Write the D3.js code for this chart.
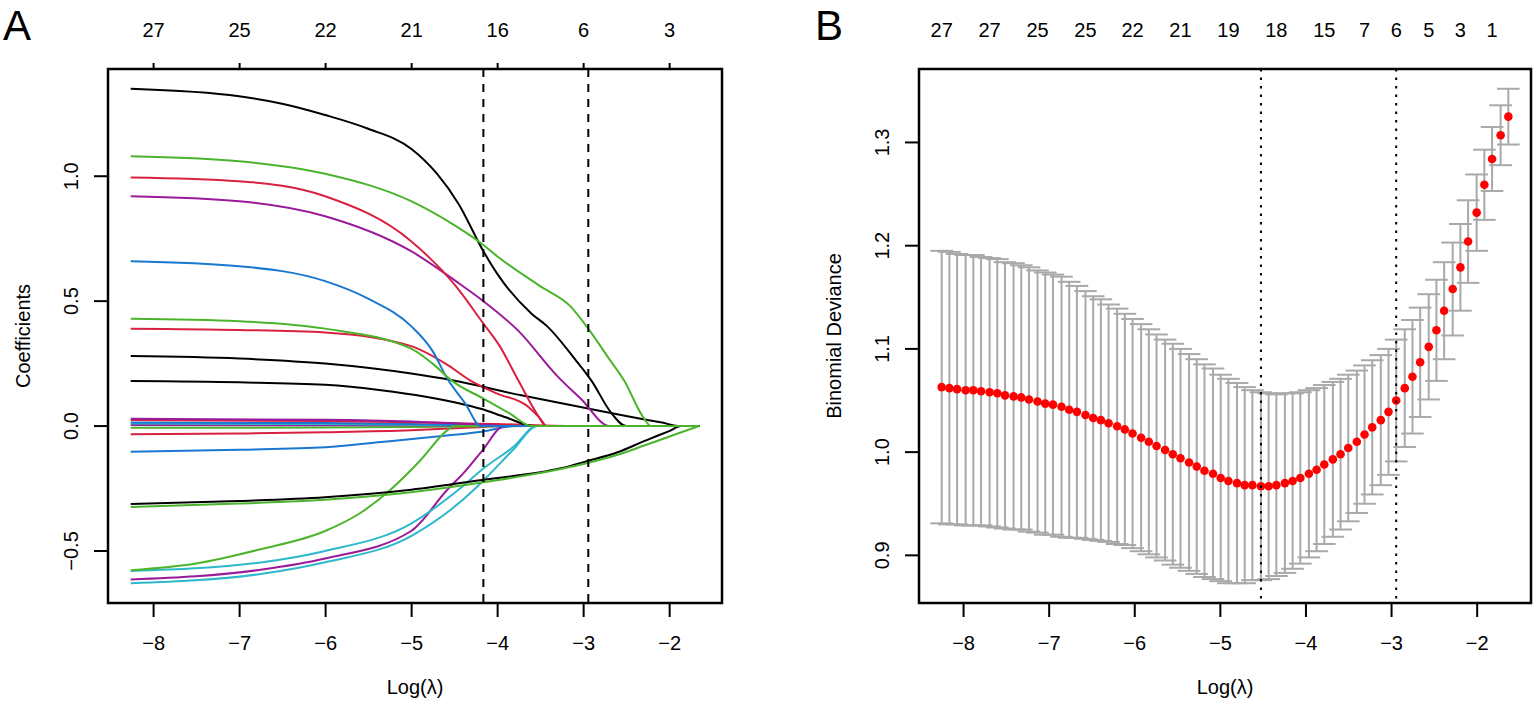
<!DOCTYPE html>
<html>
<head>
<meta charset="utf-8">
<script src="https://cdn.jsdelivr.net/npm/d3@7"></script>
<style>
  body { margin: 0; background: #fff; }
  text { font-family: "Liberation Sans", Arial, sans-serif; }
</style>
</head>
<body>
<div id="chart"></div>
<script>
// ---- panel A: coefficient paths, [log(lambda), coefficient] knots
const coefBlack1 = [[-8.26,1.35],[-7,1.32],[-6.5,1.29],[-6,1.245],[-5.5,1.19],[-5,1.11],[-4.7,1.01],[-4.45,0.89],[-4.16,0.70],[-4.0,0.61],[-3.6,0.45],[-3.42,0.40],[-3.1,0.27],[-2.9,0.18],[-2.68,0.056],[-2.5,0],[-1.65,0]];
const coefGreen1 = [[-8.26,1.08],[-7,1.06],[-6,1.01],[-5,0.90],[-4.48,0.80],[-4.16,0.725],[-4.0,0.68],[-3.5,0.56],[-3.15,0.48],[-2.92,0.38],[-2.7,0.27],[-2.52,0.18],[-2.31,0.04],[-2.21,0],[-1.65,0]];
const coefRed1 = [[-8.26,0.995],[-7,0.98],[-6,0.92],[-5,0.74],[-4.48,0.56],[-4.16,0.41],[-3.97,0.32],[-3.75,0.18],[-3.53,0.045],[-3.43,0],[-1.65,0]];
const coefPurple1 = [[-8.26,0.92],[-7,0.90],[-6,0.84],[-5,0.70],[-4.48,0.58],[-4.16,0.50],[-3.75,0.38],[-3.3,0.20],[-3.03,0.11],[-2.69,0],[-1.65,0]];
const coefBlue1 = [[-8.26,0.66],[-7,0.64],[-6,0.58],[-5.5,0.51],[-5.0,0.40],[-4.75,0.30],[-4.58,0.19],[-4.37,0.09],[-4.19,0],[-1.65,0]];
const coefGreen2 = [[-8.26,0.43],[-7,0.42],[-6,0.39],[-5,0.31],[-4.75,0.25],[-4.52,0.18],[-4.16,0.11],[-3.85,0.05],[-3.6,0],[-1.65,0]];
const coefRed2 = [[-8.26,0.39],[-7,0.385],[-6,0.375],[-5,0.32],[-4.6,0.25],[-4.3,0.18],[-4.0,0.13],[-3.65,0.08],[-3.5,0.03],[-3.42,0],[-1.65,0]];
const coefBlack2 = [[-8.26,0.28],[-7,0.27],[-6,0.25],[-5,0.21],[-4.52,0.183],[-3.72,0.123],[-3.03,0.076],[-2.5,0.04],[-2.1,0.015],[-1.86,0],[-1.65,0]];
const coefBlack3 = [[-8.26,0.18],[-7,0.175],[-6,0.165],[-5.35,0.143],[-4.42,0.089],[-4.19,0.069],[-3.9,0.035],[-3.57,0],[-1.65,0]];
const coefMagenta0 = [[-8.26,0.029],[-6,0.025],[-5,0.018],[-4.2,0.006],[-3.84,0],[-1.65,0]];
const coefRed0 = [[-8.26,0.024],[-6,0.02],[-5,0.015],[-4,0.008],[-3.0,0],[-1.65,0]];
const coefBlue0 = [[-8.26,0.014],[-6,0.012],[-5,0.008],[-4.3,0.003],[-3.9,0],[-1.65,0]];
const coefCyan0 = [[-8.26,0.010],[-6,0.008],[-5,0.005],[-3.8,0],[-1.65,0]];
const coefMagenta0b = [[-8.26,0.004],[-5,0.003],[-3.7,0],[-1.65,0]];
const coefGreen0 = [[-8.26,-0.007],[-6,-0.006],[-5,-0.004],[-3.6,0],[-1.65,0]];
const coefRed0b = [[-8.26,-0.033],[-7,-0.03],[-6,-0.025],[-5,-0.017],[-4.3,-0.006],[-3.9,0],[-1.65,0]];
const coefBlue2 = [[-8.26,-0.103],[-7,-0.095],[-6,-0.085],[-5.35,-0.064],[-4.5,-0.035],[-4.16,-0.022],[-3.8,0],[-1.65,0]];
const coefBlack4 = [[-8.26,-0.312],[-7,-0.30],[-6,-0.285],[-5,-0.255],[-4.16,-0.215],[-3.26,-0.169],[-2.95,-0.14],[-2.6,-0.105],[-2.29,-0.06],[-2.0,-0.02],[-1.86,0],[-1.65,0]];
const coefGreen3 = [[-8.26,-0.324],[-7,-0.31],[-6,-0.295],[-5,-0.265],[-4.16,-0.225],[-3.26,-0.172],[-2.95,-0.148],[-2.6,-0.115],[-2.29,-0.078],[-1.9,-0.03],[-1.65,0]];
const coefGreen4 = [[-8.26,-0.577],[-7.5,-0.55],[-6.75,-0.493],[-6,-0.42],[-5.6,-0.35],[-5.24,-0.255],[-4.9,-0.14],[-4.58,-0.017],[-4.5,0],[-1.65,0]];
const coefCyanA = [[-8.26,-0.58],[-6.75,-0.546],[-6,-0.50],[-5,-0.39],[-4.45,-0.255],[-4.16,-0.17],[-3.8,-0.08],[-3.54,0],[-1.65,0]];
const coefMagenta1 = [[-8.26,-0.614],[-6.75,-0.575],[-6,-0.53],[-5,-0.42],[-4.58,-0.255],[-4.37,-0.18],[-4.17,-0.097],[-3.92,0],[-1.65,0]];
const coefCyanB = [[-8.26,-0.629],[-6.75,-0.592],[-6,-0.545],[-5,-0.44],[-4.27,-0.255],[-4.16,-0.218],[-3.8,-0.09],[-3.54,0],[-1.65,0]];

// drawing order (last one ends up on top along the zero line)
const coefSeries = [coefRed0b, coefGreen0, coefMagenta0b, coefCyan0, coefBlue0, coefRed0, coefMagenta0,
    coefBlue2, coefCyanB, coefMagenta1, coefCyanA, coefGreen4, coefBlack4, coefBlack3, coefBlack2,
    coefRed2, coefBlue1, coefPurple1, coefRed1, coefBlack1, coefGreen2, coefGreen3, coefGreen1];
const coefColors = ["#d92040", "#4cb42c", "#9a1a9a", "#2db8cc", "#1a78d0", "#d92040", "#9a1a9a",
    "#1a78d0", "#2db8cc", "#9a1a9a", "#2db8cc", "#4cb42c", "#000000", "#000000", "#000000",
    "#d92040", "#1a78d0", "#9a1a9a", "#d92040", "#000000", "#4cb42c", "#4cb42c", "#4cb42c"];

const xTicks = [-8, -7, -6, -5, -4, -3, -2];
const topLabelsA = ["27", "25", "22", "21", "16", "6", "3"];
const yTicksA = [-0.5, 0, 0.5, 1.0];
const vlinesA = [-4.16, -2.94];

// ---- panel B: cross-validation curve
const logLambda = [-8.25, -8.16, -8.07, -7.97, -7.88, -7.79, -7.69, -7.60, -7.51, -7.41,
    -7.32, -7.23, -7.13, -7.04, -6.95, -6.85, -6.76, -6.67, -6.57, -6.48,
    -6.39, -6.30, -6.20, -6.11, -6.02, -5.92, -5.83, -5.74, -5.64, -5.55,
    -5.46, -5.36, -5.27, -5.18, -5.08, -4.99, -4.90, -4.80, -4.71, -4.62,
    -4.52, -4.43, -4.34, -4.24, -4.15, -4.06, -3.96, -3.87, -3.78, -3.68,
    -3.59, -3.50, -3.40, -3.31, -3.22, -3.12, -3.03, -2.94, -2.84, -2.75,
    -2.66, -2.56, -2.47, -2.38, -2.28, -2.19, -2.10, -2.00, -1.91, -1.82,
    -1.72, -1.63];
const cvMean = [1.063, 1.062, 1.061, 1.060, 1.060, 1.059, 1.058, 1.057, 1.055, 1.054,
    1.053, 1.051, 1.049, 1.047, 1.046, 1.044, 1.041, 1.039, 1.036, 1.033,
    1.031, 1.028, 1.025, 1.022, 1.018, 1.014, 1.010, 1.006, 1.002, 0.998,
    0.994, 0.990, 0.986, 0.982, 0.979, 0.975, 0.972, 0.970, 0.968, 0.968,
    0.967, 0.967, 0.968, 0.970, 0.972, 0.975, 0.979, 0.983, 0.988, 0.993,
    0.998, 1.004, 1.010, 1.017, 1.024, 1.031, 1.039, 1.050, 1.062, 1.073,
    1.087, 1.102, 1.118, 1.137, 1.158, 1.179, 1.204, 1.232, 1.259, 1.284,
    1.307, 1.325];
const cvSd = [0.132, 0.132, 0.131, 0.131, 0.131, 0.130, 0.130, 0.130, 0.129, 0.129,
    0.128, 0.128, 0.127, 0.127, 0.126, 0.126, 0.124, 0.122, 0.120, 0.118,
    0.117, 0.115, 0.114, 0.112, 0.111, 0.110, 0.109, 0.108, 0.107, 0.107,
    0.106, 0.105, 0.104, 0.103, 0.102, 0.100, 0.099, 0.097, 0.095, 0.092,
    0.091, 0.090, 0.088, 0.087, 0.085, 0.083, 0.081, 0.079, 0.077, 0.075,
    0.073, 0.071, 0.069, 0.067, 0.065, 0.063, 0.061, 0.059, 0.057, 0.055,
    0.053, 0.051, 0.049, 0.047, 0.045, 0.042, 0.040, 0.037, 0.034, 0.031,
    0.029, 0.027];
const nzeroIdx = [0, 6, 12, 18, 24, 30, 36, 42, 48, 53, 57, 61, 65, 69];
const nzeroLabels = ["27", "27", "25", "25", "22", "21", "19", "18", "15", "7", "6", "5", "3", "1"];
const yTicksB = [0.9, 1.0, 1.1, 1.2, 1.3];

// ---- layout
const width = 1535, height = 705;
const boxA = {left: 108, right: 722, top: 69, bottom: 603};
const boxB = {left: 919, right: 1531, top: 69, bottom: 603};
const fontSize = 20;

const svg = d3.select("#chart")
    .append("svg")
    .attr("width", width)
    .attr("height", height)
    .style("display", "block");

svg.append("rect").attr("width", width).attr("height", height).attr("fill", "#fff");

// R style axis range: data range stretched 4% on each side
function rRange(ext) {
    const d = (ext[1] - ext[0]) * 0.04;
    return [ext[0] - d, ext[1] + d];
}

function bottomAxis(box, x) {
    svg.append("g")
        .attr("transform", `translate(0, ${box.bottom})`)
        .call(d3.axisBottom(x).tickValues(xTicks).tickSize(14).tickPadding(19).tickFormat(d3.format(".0f")))
        .call(g => g.select(".domain").remove())
        .call(g => g.selectAll("line").attr("stroke", "#000").attr("stroke-width", 2))
        .call(g => g.selectAll("text").attr("fill", "#000"))
        .attr("font-size", fontSize)
        .attr("font-family", null);
}

function leftAxis(box, y, ticks, fmt) {
    const g = svg.append("g");
    g.selectAll("line")
        .data(ticks)
        .join("line")
        .attr("x1", box.left - 14).attr("x2", box.left)
        .attr("y1", d => y(d)).attr("y2", d => y(d))
        .attr("stroke", "#000").attr("stroke-width", 2);
    g.selectAll("text")
        .data(ticks)
        .join("text")
        .attr("transform", d => `translate(${box.left - 30}, ${y(d)}) rotate(-90)`)
        .attr("text-anchor", "middle")
        .attr("font-size", fontSize)
        .text(fmt);
}

function frame(box) {
    svg.append("rect")
        .attr("x", box.left).attr("y", box.top)
        .attr("width", box.right - box.left).attr("height", box.bottom - box.top)
        .attr("fill", "none").attr("stroke", "#000").attr("stroke-width", 2.5);
}

function titles(box, xTitle, yTitle, letter, letterX) {
    svg.append("text")
        .attr("x", (box.left + box.right) / 2).attr("y", 694)
        .attr("text-anchor", "middle").attr("font-size", fontSize)
        .text(xTitle);
    svg.append("text")
        .attr("transform", `translate(${box.left - 78}, ${(box.top + box.bottom) / 2}) rotate(-90)`)
        .attr("text-anchor", "middle").attr("font-size", fontSize)
        .text(yTitle);
    svg.append("text")
        .attr("x", letterX).attr("y", 40)
        .attr("font-size", 42)
        .text(letter);
}

// ================= panel A
const allKnots = coefSeries.flat();
const xA = d3.scaleLinear()
    .domain(rRange(d3.extent(allKnots, d => d[0])))
    .range([boxA.left, boxA.right]);
const yA = d3.scaleLinear()
    .domain(rRange(d3.extent(allKnots, d => d[1])))
    .range([boxA.bottom, boxA.top]);

svg.append("clipPath").attr("id", "clipA")
    .append("rect")
    .attr("x", boxA.left).attr("y", boxA.top)
    .attr("width", boxA.right - boxA.left).attr("height", boxA.bottom - boxA.top);

const coefLine = d3.line()
    .x(d => xA(d[0]))
    .y(d => yA(d[1]))
    .curve(d3.curveMonotoneX);

svg.append("g")
    .attr("clip-path", "url(#clipA)")
    .selectAll("path")
    .data(coefSeries)
    .join("path")
    .attr("d", coefLine)
    .attr("fill", "none")
    .attr("stroke", (d, i) => coefColors[i])
    .attr("stroke-width", 2)
    .attr("stroke-linejoin", "round");

svg.append("g")
    .selectAll("line")
    .data(vlinesA)
    .join("line")
    .attr("x1", d => xA(d)).attr("x2", d => xA(d))
    .attr("y1", boxA.top).attr("y2", boxA.bottom)
    .attr("stroke", "#000").attr("stroke-width", 2)
    .attr("stroke-dasharray", "8,7");

bottomAxis(boxA, xA);
leftAxis(boxA, yA, yTicksA, d3.format(".1f"));

svg.append("g")
    .attr("transform", `translate(0, ${boxA.top})`)
    .call(d3.axisTop(xA).tickValues(xTicks).tickSize(6).tickPadding(26).tickFormat((d, i) => topLabelsA[i]))
    .call(g => g.select(".domain").remove())
    .call(g => g.selectAll("line").attr("stroke", "#000").attr("stroke-width", 2))
    .call(g => g.selectAll("text").attr("fill", "#000"))
    .attr("font-size", fontSize)
    .attr("font-family", null);

frame(boxA);
titles(boxA, "Log(λ)", "Coefficients", "A", 3);

// ================= panel B
const cvUp = cvMean.map((m, i) => m + cvSd[i]);
const cvLo = cvMean.map((m, i) => m - cvSd[i]);

const xB = d3.scaleLinear()
    .domain(rRange(d3.extent(logLambda)))
    .range([boxB.left, boxB.right]);
const yB = d3.scaleLinear()
    .domain(rRange([d3.min(cvLo), d3.max(cvUp)]))
    .range([boxB.bottom, boxB.top]);

// error bar cap half width, as glmnet does it (2% of the lambda range)
const barw = (d3.max(logLambda) - d3.min(logLambda)) * 0.02;

const bars = svg.append("g")
    .attr("stroke", "#a9a9a9")
    .attr("stroke-width", 2);
bars.selectAll("line.v")
    .data(logLambda)
    .join("line")
    .attr("class", "v")
    .attr("x1", d => xB(d)).attr("x2", d => xB(d))
    .attr("y1", (d, i) => yB(cvUp[i])).attr("y2", (d, i) => yB(cvLo[i]));
bars.selectAll("line.up")
    .data(logLambda)
    .join("line")
    .attr("class", "up")
    .attr("x1", d => xB(d - barw)).attr("x2", d => xB(d + barw))
    .attr("y1", (d, i) => yB(cvUp[i])).attr("y2", (d, i) => yB(cvUp[i]));
bars.selectAll("line.lo")
    .data(logLambda)
    .join("line")
    .attr("class", "lo")
    .attr("x1", d => xB(d - barw)).attr("x2", d => xB(d + barw))
    .attr("y1", (d, i) => yB(cvLo[i])).attr("y2", (d, i) => yB(cvLo[i]));

svg.append("g")
    .selectAll("circle")
    .data(logLambda)
    .join("circle")
    .attr("cx", d => xB(d))
    .attr("cy", (d, i) => yB(cvMean[i]))
    .attr("r", 4.3)
    .attr("fill", "#ff0000");

// lambda.min and lambda.1se
const minIdx = d3.minIndex(cvMean);
const seLimit = cvMean[minIdx] + cvSd[minIdx];
let seIdx = minIdx;
cvMean.forEach((m, i) => { if (i > minIdx && m <= seLimit) seIdx = i; });

svg.append("g")
    .selectAll("line")
    .data([logLambda[minIdx], logLambda[seIdx]])
    .join("line")
    .attr("x1", d => xB(d)).attr("x2", d => xB(d))
    .attr("y1", boxB.top).attr("y2", boxB.bottom)
    .attr("stroke", "#000").attr("stroke-width", 2)
    .attr("stroke-dasharray", "2.5,6");

bottomAxis(boxB, xB);
leftAxis(boxB, yB, yTicksB, d3.format(".1f"));

svg.append("g")
    .selectAll("text")
    .data(nzeroIdx)
    .join("text")
    .attr("x", d => xB(logLambda[d]))
    .attr("y", 37)
    .attr("text-anchor", "middle")
    .attr("font-size", fontSize)
    .text((d, i) => nzeroLabels[i]);

frame(boxB);
titles(boxB, "Log(λ)", "Binomial Deviance", "B", 815);
</script>
</body>
</html>
